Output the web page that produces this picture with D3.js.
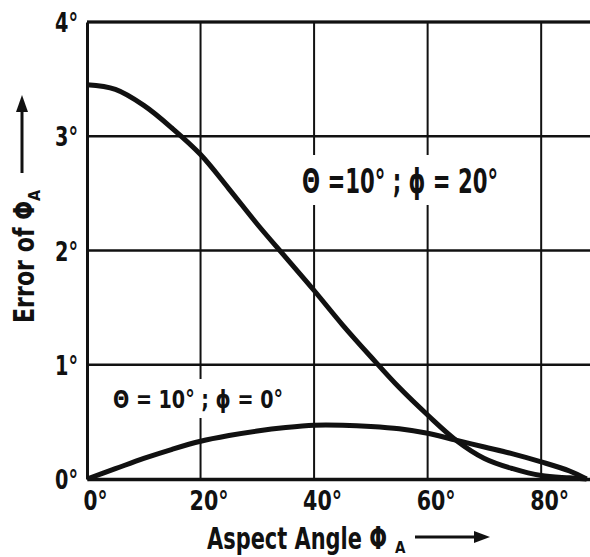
<!DOCTYPE html>
<html>
<head>
<meta charset="utf-8">
<script src="https://cdn.jsdelivr.net/npm/d3@7"></script>
<style>
    body { margin: 0; background: #fff; }
    svg { display: block; }
    text { font-family: "DejaVu Sans Condensed", "DejaVu Sans", sans-serif; font-stretch: condensed; fill: #111; }
</style>
</head>
<body>
<svg></svg>
<script>
// aspect angle (deg) and error of phi_A (deg)
var angles = [0, 5, 10, 15, 20, 25, 30, 35, 40, 45, 50, 55, 60, 65, 70, 75, 80, 85, 88];
var errPhi20 = [3.45, 3.41, 3.27, 3.07, 2.84, 2.54, 2.23, 1.94, 1.65, 1.35, 1.07, 0.80, 0.56, 0.34, 0.18, 0.09, 0.03, 0.01, 0];
var errPhi0 = [0, 0.09, 0.18, 0.26, 0.33, 0.38, 0.42, 0.45, 0.47, 0.47, 0.46, 0.44, 0.40, 0.34, 0.28, 0.22, 0.15, 0.07, 0];
var xTicks = [0, 20, 40, 60, 80];
var yTicks = [0, 1, 2, 3, 4];

var svg = d3.select("svg")
        .attr("width", 590)
        .attr("height", 557),
    margin = {top: 22, right: 0, bottom: 78, left: 87},
    width = +svg.attr("width") - margin.left - margin.right,
    height = +svg.attr("height") - margin.top - margin.bottom;

var x = d3.scaleLinear().domain([0, 88.6]).range([0, width]),
    y = d3.scaleLinear().domain([0, 4]).range([height, 0]);

var g = svg.append("g")
    .attr("transform", "translate(" + margin.left + "," + margin.top + ")");

// grid
g.selectAll(".hgrid")
    .data(yTicks.slice(1))
    .enter().append("line")
    .attr("x1", 0).attr("x2", width)
    .attr("y1", function (d) { return y(d); })
    .attr("y2", function (d) { return y(d); })
    .attr("stroke", "#111").attr("stroke-width", 2.5);

g.selectAll(".vgrid")
    .data(xTicks.slice(1))
    .enter().append("line")
    .attr("x1", function (d) { return x(d); })
    .attr("x2", function (d) { return x(d); })
    .attr("y1", 0).attr("y2", height)
    .attr("stroke", "#111").attr("stroke-width", 2);

// axes
var yAxis = g.append("g")
    .call(d3.axisLeft(y).tickValues(yTicks).tickSize(0).tickPadding(9).tickFormat(function (d) { return d + "°"; }));
yAxis.select(".domain").attr("stroke", "#111").attr("stroke-width", 3);
yAxis.selectAll("text").attr("font-size", 27).attr("font-weight", "bold").attr("dy", "0.36em")
    .attr("textLength", 23).attr("lengthAdjust", "spacingAndGlyphs");

var xAxis = g.append("g")
    .attr("transform", "translate(0," + height + ")")
    .call(d3.axisBottom(x).tickValues(xTicks).tickSize(0).tickPadding(12).tickFormat(function (d) { return d + "°"; }));
xAxis.select(".domain").attr("stroke", "#111").attr("stroke-width", 3.5);
xAxis.selectAll("text").attr("font-size", 27).attr("font-weight", "bold").attr("x", 8)
    .attr("textLength", function (d) { return d === 0 ? 24 : 39; })
    .attr("lengthAdjust", "spacingAndGlyphs");

// labels with white boxes
function label(txt, cx, base, size, len) {
    var t = g.append("text")
        .attr("x", cx).attr("y", base)
        .attr("font-size", size)
        .attr("font-weight", "bold")
        .attr("text-anchor", "middle")
        .attr("textLength", len)
        .attr("lengthAdjust", "spacingAndGlyphs")
        .text(txt);
    var b = t.node().getBBox();
    g.insert("rect", function () { return t.node(); })
        .attr("x", b.x - 6).attr("y", b.y - 6)
        .attr("width", b.width + 12).attr("height", b.height + 10)
        .attr("fill", "#fff");
}
label("Θ =10° ;  ϕ = 20°", 400 - margin.left, 193 - margin.top, 34, 196);
label("Θ = 10° ; ϕ = 0°", 198 - margin.left, 408 - margin.top, 25, 170);

// curves
var line = d3.line()
    .x(function (d) { return x(d[0]); })
    .y(function (d) { return y(d[1]); })
    .curve(d3.curveCatmullRom.alpha(0.5));

[errPhi20, errPhi0].forEach(function (s) {
    g.append("path")
        .datum(angles.map(function (a, i) { return [a, s[i]]; }))
        .attr("fill", "none")
        .attr("stroke", "#111")
        .attr("stroke-width", 5)
        .attr("stroke-linejoin", "round")
        .attr("d", line);
});

// top border
g.append("line").attr("x1", 0).attr("x2", width).attr("y1", 0).attr("y2", 0)
    .attr("stroke", "#111").attr("stroke-width", 3);

// axis titles
svg.append("text")
    .attr("x", 207).attr("y", 549)
    .attr("font-size", 31).attr("font-weight", "bold")
    .attr("textLength", 180).attr("lengthAdjust", "spacingAndGlyphs")
    .text("Aspect Angle Φ");
svg.append("text")
    .attr("x", 395).attr("y", 553)
    .attr("font-size", 15).attr("font-weight", "bold")
    .text("A");

svg.append("line").attr("x1", 415).attr("x2", 478).attr("y1", 537).attr("y2", 537)
    .attr("stroke", "#111").attr("stroke-width", 3);
svg.append("path").attr("d", "M490,537 L474,531 L474,543 Z").attr("fill", "#111");

svg.append("text")
    .attr("transform", "translate(34,323) rotate(-90)")
    .attr("font-size", 28).attr("font-weight", "bold")
    .attr("textLength", 122).attr("lengthAdjust", "spacingAndGlyphs")
    .text("Error of Φ");
svg.append("text")
    .attr("transform", "translate(40,201) rotate(-90)")
    .attr("font-size", 16).attr("font-weight", "bold")
    .text("A");

svg.append("line").attr("x1", 22).attr("x2", 22).attr("y1", 173).attr("y2", 108)
    .attr("stroke", "#111").attr("stroke-width", 3);
svg.append("path").attr("d", "M22,95 L16,112 L28,112 Z").attr("fill", "#111");
</script>
</body>
</html>
